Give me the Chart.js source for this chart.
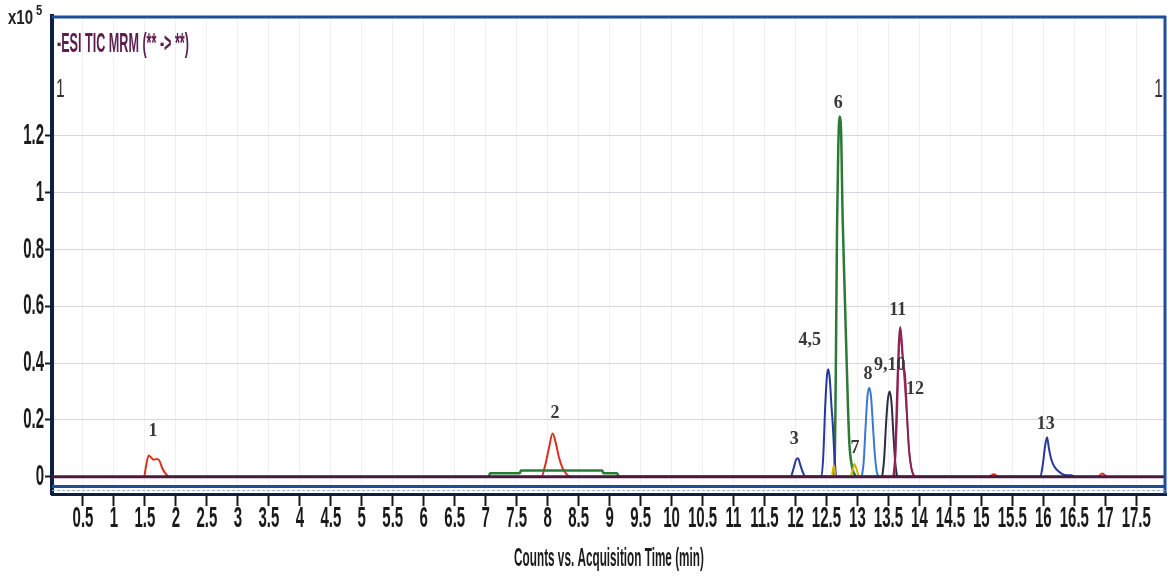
<!DOCTYPE html>
<html>
<head>
<meta charset="utf-8">
<script src="https://cdn.jsdelivr.net/npm/chart.js@4.4.1/dist/chart.umd.min.js"></script>
<style>
  html, body { margin: 0; padding: 0; background: #ffffff; }
  #wrap { width: 1170px; height: 577px; }
</style>
</head>
<body>
<div id="wrap"><canvas id="c" width="1170" height="577"></canvas></div>
<script>
// ---- tick labels ----
const xTickValues = [0.5,1,1.5,2,2.5,3,3.5,4,4.5,5,5.5,6,6.5,7,7.5,8,8.5,9,9.5,10,10.5,11,11.5,12,12.5,13,13.5,14,14.5,15,15.5,16,16.5,17,17.5];
const xTickLabels = ['0.5','1','1.5','2','2.5','3','3.5','4','4.5','5','5.5','6','6.5','7','7.5','8','8.5','9','9.5','10','10.5','11','11.5','12','12.5','13','13.5','14','14.5','15','15.5','16','16.5','17','17.5'];
const yTickValues = [0,0.2,0.4,0.6,0.8,1,1.2];
const yTickLabels = ['0','0.2','0.4','0.6','0.8','1','1.2'];
const xTitle = 'Counts vs. Acquisition Time (min)';
const esiTitle = '-ESI TIC MRM (** -> **)';

// ---- series (time in min, counts in x10^5) ----
const baselineTimes  = [0, 17.98];
const baselineCounts = [0, 0];

const redTimes  = [1.49,1.52,1.56,1.60,1.64,1.69,1.73,1.78,1.83,1.89, 7.90,7.96,8.02,8.08,8.13,8.18,8.24,8.30,8.36, 15.12,15.2,15.28, 16.88,16.95,17.02];
const redCounts = [0,0.04,0.075,0.068,0.06,0.062,0.058,0.03,0.012,0, 0,0.04,0.10,0.152,0.12,0.07,0.03,0.01,0, 0,0.009,0, 0,0.011,0];

const greenTimes  = [7.05,7.07,7.55,7.57,8.88,8.90,9.12,9.15, 12.60,12.63,12.65,12.67,12.69,12.71,12.735,12.76,12.79,12.82,12.845,12.87,12.90,12.93,12.98];
const greenCounts = [0,0.012,0.012,0.022,0.022,0.012,0.012,0, 0,0.03,0.35,0.87,1.15,1.267,1.22,0.92,0.68,0.45,0.26,0.115,0.05,0.02,0];

const navyTimes  = [11.93,11.97,12.01,12.04,12.08,12.12,12.16, 12.42,12.45,12.48,12.51,12.53,12.555,12.58,12.60,12.63,12.66, 15.95,15.99,16.03,16.06,16.09,16.13,16.18,16.24,16.30,16.38,16.45,16.50];
const navyCounts = [0,0.03,0.06,0.065,0.04,0.015,0, 0,0.08,0.25,0.36,0.378,0.34,0.25,0.19,0.07,0, 0,0.04,0.11,0.139,0.10,0.06,0.035,0.02,0.01,0.005,0.005,0];

const yellowTimes  = [12.59,12.62,12.65, 12.88,12.92,12.95,12.98,13.01,13.05];
const yellowCounts = [0,0.04,0, 0,0.02,0.045,0.03,0.01,0];

const skyTimes  = [13.07,13.10,13.13,13.16,13.19,13.22,13.25,13.28,13.31,13.34];
const skyCounts = [0,0.05,0.17,0.28,0.313,0.28,0.18,0.08,0.02,0];

const grayTimes  = [13.40,13.43,13.46,13.49,13.52,13.55,13.58,13.61,13.64];
const grayCounts = [0,0.06,0.18,0.27,0.30,0.26,0.15,0.05,0];

const maroonTimes  = [13.58,13.61,13.64,13.67,13.69,13.71,13.74,13.77,13.80,13.83,13.87,13.92];
const maroonCounts = [0,0.08,0.30,0.48,0.527,0.49,0.40,0.35,0.22,0.10,0.03,0];

const pinkTimes  = [13.60,13.64,13.67,13.695,13.72,13.76,13.80,13.84,13.88,13.92];
const pinkCounts = [0,0.2,0.43,0.49,0.44,0.33,0.2,0.08,0.02,0];

// ---- peak annotations ----
const peakLabels = ['1','2','3','4,5','6','7','8','9,10','11','12','13'];
const peakLabelTimes  = [1.63, 8.12, 11.98, 12.23, 12.69, 12.96, 13.17, 13.52, 13.65, 13.93, 16.04];
const peakLabelCounts = [0.161, 0.224, 0.130, 0.480, 1.315, 0.099, 0.359, 0.393, 0.584, 0.307, 0.185];

// narrow face; the leading pseudo-family only carries the horizontal squash factor (percent)
const narrow = pct => "'Squash" + pct + "', 'Liberation Sans Narrow', 'Liberation Sans', sans-serif";

const toPts = (ts, cs) => ts.map((t, i) => ({ x: t, y: cs[i] }));

const seriesDefs = [
  { label: 'baseline', t: baselineTimes, c: baselineCounts, color: '#4a1a3c', w: 3 },
  { label: 'peak 11', t: maroonTimes, c: maroonCounts, color: '#8a2352', w: 2 },
  { label: 'peak 12', t: pinkTimes, c: pinkCounts, color: '#b3315e', w: 1.5 },
  { label: 'peaks 9,10', t: grayTimes, c: grayCounts, color: '#2b2d44', w: 2 },
  { label: 'peak 8', t: skyTimes, c: skyCounts, color: '#3b78d0', w: 2 },
  { label: 'peak 7', t: yellowTimes, c: yellowCounts, color: '#d4b20a', w: 2 },
  { label: 'peaks 3,4,5,13', t: navyTimes, c: navyCounts, color: '#26399a', w: 2 },
  { label: 'peak 6', t: greenTimes, c: greenCounts, color: '#2c7a36', w: 2.5 },
  { label: 'peaks 1,2', t: redTimes, c: redCounts, color: '#d8321f', w: 2 }
];

// condensed text rendering (the reference uses a very narrow face)
const condense = {
  id: 'condense',
  beforeInit(chart) {
    const ctx = chart.ctx;
    const orig = ctx.fillText.bind(ctx);
    ctx.fillText = function (t, x, y, mw) {
      const m = /Squash(\d+)/.exec(ctx.font);
      if (m) {
        const w = ctx.measureText(t).width * (parseInt(m[1], 10) / 100);
        return orig(t, x, y, (mw !== undefined && mw !== null) ? Math.min(mw, w) : w);
      }
      return (mw !== undefined && mw !== null) ? orig(t, x, y, mw) : orig(t, x, y);
    };
  }
};

const frame = {
  id: 'frame',
  afterDraw(chart) {
    const { ctx, chartArea: a } = chart;
    ctx.save();
    ctx.strokeStyle = '#1f4d9c';
    ctx.lineWidth = 3;
    ctx.beginPath();
    ctx.moveTo(a.left, a.top + 1); ctx.lineTo(a.right, a.top + 1);
    ctx.moveTo(a.right - 1, a.top); ctx.lineTo(a.right - 1, a.bottom);
    ctx.moveTo(a.left, a.bottom - 7.5); ctx.lineTo(a.right, a.bottom - 7.5);
    ctx.stroke();
    ctx.strokeStyle = '#9fb3d8';
    ctx.lineWidth = 1;
    ctx.setLineDash([3, 2]);
    ctx.beginPath();
    ctx.moveTo(a.left, a.bottom - 3.5); ctx.lineTo(a.right, a.bottom - 3.5);
    ctx.stroke();
    ctx.restore();
  }
};

const texts = {
  id: 'texts',
  afterDraw(chart) {
    const { ctx } = chart;
    const xs = chart.scales.x, ys = chart.scales.y;
    ctx.save();
    ctx.textBaseline = 'middle';
    ctx.textAlign = 'left';
    ctx.fillStyle = '#222222';
    ctx.font = 'bold 20px ' + narrow(75);
    ctx.fillText('x10', 8, 18);
    ctx.font = 'bold 14px ' + narrow(80);
    ctx.fillText('5', 36, 11);
    ctx.fillStyle = '#5b1d4c';
    ctx.font = 'bold 28px ' + narrow(45);
    ctx.fillText(esiTitle, 57, 44);
    ctx.fillStyle = '#333333';
    ctx.font = '26px ' + narrow(60);
    ctx.fillText('1', 56, 90);
    ctx.textAlign = 'right';
    ctx.fillText('1', 1163, 90);
    ctx.textAlign = 'center';
    ctx.fillStyle = '#383838';
    ctx.font = "bold 18px 'Liberation Serif', 'Times New Roman', serif";
    peakLabels.forEach((lab, i) => {
      ctx.fillText(lab, xs.getPixelForValue(peakLabelTimes[i]), ys.getPixelForValue(peakLabelCounts[i]));
    });
    ctx.restore();
  }
};

new Chart(document.getElementById('c'), {
  type: 'line',
  data: {
    datasets: seriesDefs.map(s => ({
      label: s.label,
      data: toPts(s.t, s.c),
      borderColor: s.color,
      borderWidth: s.w,
      pointRadius: 0,
      fill: false,
      cubicInterpolationMode: 'monotone'
    }))
  },
  options: {
    responsive: false,
    animation: false,
    layout: { padding: { top: 9, right: 4, left: 0, bottom: 0 } },
    plugins: { legend: { display: false }, tooltip: { enabled: false } },
    scales: {
      x: {
        type: 'linear',
        min: 0,
        max: 17.98,
        afterBuildTicks: s => { s.ticks = xTickValues.map(v => ({ value: v })); },
        afterFit: s => { s.height = 83; },
        ticks: {
          autoSkip: false, maxRotation: 0, minRotation: 0, padding: 1,
          color: '#1a1a1a',
          font: { family: narrow(50), size: 30, weight: 'bold', lineHeight: 0.8 },
          callback: (v, i) => xTickLabels[i]
        },
        grid: { color: '#f0f0f3', lineWidth: 1, tickLength: 12, tickColor: '#1a1a1a', tickWidth: 2 },
        border: { color: '#0d1f45', width: 3 },
        title: {
          display: true, text: xTitle, color: '#1a1a1a',
          font: { family: narrow(47), size: 25, weight: 'bold' },
          padding: { top: 0, bottom: 3 }
        }
      },
      y: {
        min: -0.0607,
        max: 1.6205,
        afterBuildTicks: s => { s.ticks = yTickValues.map(v => ({ value: v })); },
        afterFit: s => { s.width = 52; },
        ticks: {
          padding: 1, color: '#1a1a1a',
          font: { family: narrow(50), size: 30, weight: 'bold', lineHeight: 1 },
          callback: (v, i) => yTickLabels[i]
        },
        grid: { color: '#d6d6de', lineWidth: 1, tickLength: 7, tickColor: '#1a1a1a', tickWidth: 2 },
        border: { color: '#0d1f45', width: 4 }
      }
    }
  },
  plugins: [condense, frame, texts]
});
</script>
</body>
</html>
